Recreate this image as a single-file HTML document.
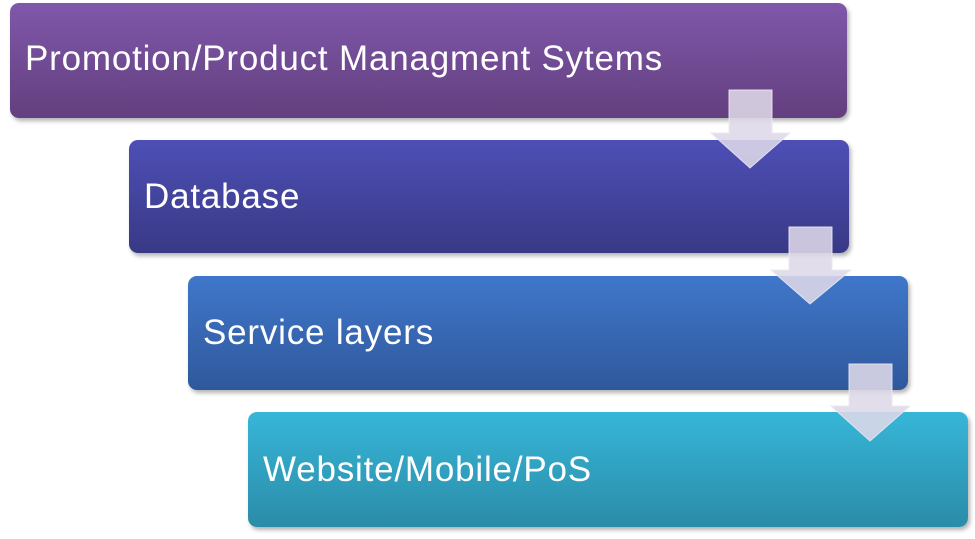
<!DOCTYPE html>
<html><head><style>
body{margin:0;width:975px;height:539px;background:#fff;position:relative;overflow:hidden;font-family:"Liberation Sans",sans-serif}
.b{position:absolute;border-radius:9px;color:#fff;font-size:35px;letter-spacing:0.8px;box-shadow:2px 3px 4px rgba(0,0,0,0.3);display:flex;align-items:center;box-sizing:border-box;padding-left:15px}
svg{position:absolute;left:0;top:0}
</style></head><body>
<div class="b" style="left:10px;top:3px;width:837px;height:115px;background:linear-gradient(#7f58aa,#633f7e);padding-bottom:4px">Promotion/Product Managment Sytems</div>
<div class="b" style="left:129px;top:140px;width:720px;height:113px;background:linear-gradient(#4e4fb6,#383985)">Database</div>
<div class="b" style="left:188px;top:276px;width:720px;height:114px;background:linear-gradient(#4077ca,#2f589c)">Service layers</div>
<div class="b" style="left:248px;top:412px;width:720px;height:115px;background:linear-gradient(#37b6d8,#2a8ca8)">Website/Mobile/PoS</div>
<svg width="975" height="539">
<g fill="rgba(222,216,232,0.88)" stroke="rgba(235,232,242,0.9)" stroke-width="1">
<polygon points="729,90 772,90 772,133 790,133 750,168 711,133 729,133"/>
<polygon points="789,227 832,227 832,270 851,270 810,304 771,270 789,270"/>
<polygon points="849,364 892,364 892,406 910,406 870,441 831,406 849,406"/>
</g></svg>
</body></html>
